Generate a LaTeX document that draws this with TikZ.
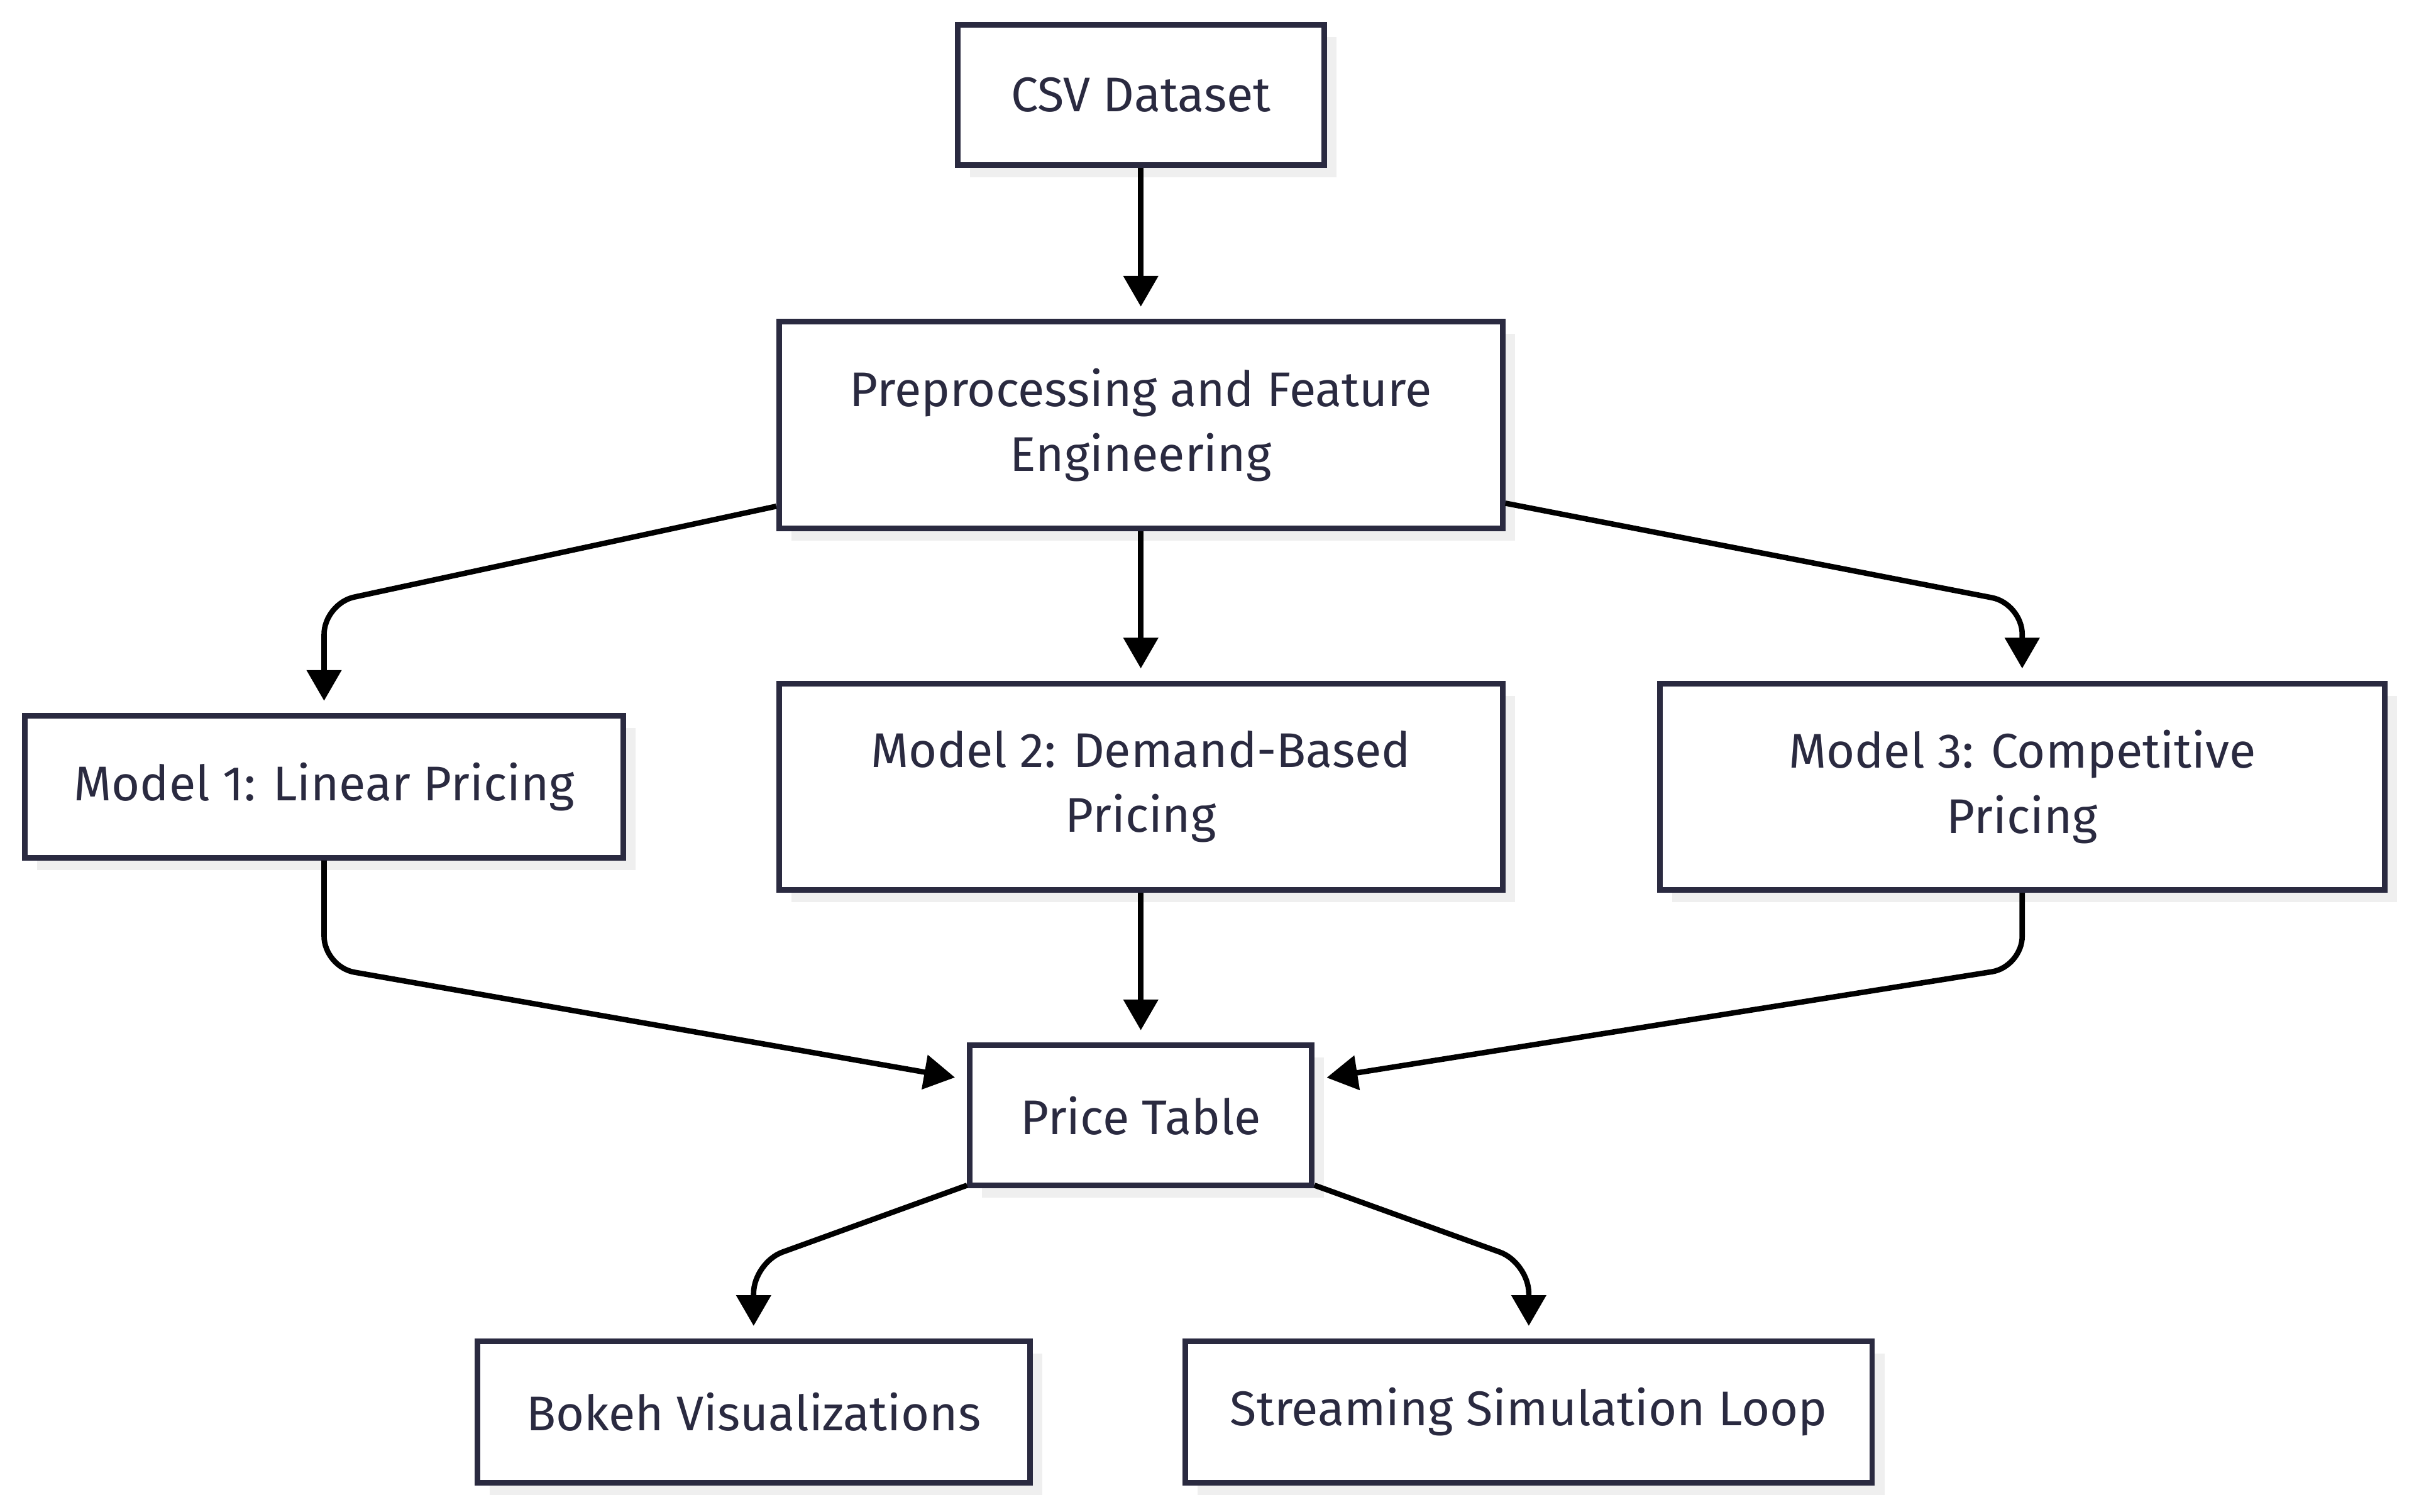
\documentclass[tikz,border=0pt]{standalone}
\usepackage{fontspec}
\setmainfont{Fira Sans}
\usepackage{tikz}
\usetikzlibrary{arrows.meta,shadows}
\definecolor{ink}{HTML}{2A2A40}
\definecolor{shade}{HTML}{EFEFEF}

\begin{document}
\begin{tikzpicture}[
        box/.style={rectangle, draw=ink, line width=2.6pt, fill=white, text=ink, align=center,
            font=\fontsize{22.5}{30}\selectfont, inner sep=0pt,
            general shadow={fill=shade, draw=none, shadow xshift=0.2cm, shadow yshift=-0.2cm}},
        flow/.style={line width=2.5pt, rounded corners=0.5cm, shorten >=0.2cm,
            -{Triangle[length=0.5cm, width=0.55cm]}}
    ]
        \useasboundingbox (0, 0) rectangle (39.2, -24.55);

        \node[box, minimum width=5.95cm, minimum height=2.275cm] (csv) at (18.525, -1.5375) {CSV Dataset};
        \node[box, minimum width=11.75cm, minimum height=3.35cm] (prep) at (18.525, -6.9) {Preprocessing and Feature\\Engineering};
        \node[box, minimum width=9.725cm, minimum height=2.3cm] (lin) at (5.2625, -12.775) {Model 1: Linear Pricing};
        \node[box, minimum width=11.75cm, minimum height=3.35cm] (dem) at (18.525, -12.775) {Model 2: Demand-Based\\Pricing};
        \node[box, minimum width=11.775cm, minimum height=3.35cm] (comp) at (32.8375, -12.775) {Model 3: Competitive\\Pricing};
        \node[box, minimum width=5.55cm, minimum height=2.275cm] (table) at (18.525, -18.1125) {Price Table};
        \node[box, minimum width=8.975cm, minimum height=2.3cm] (bokeh) at (12.2375, -22.925) {Bokeh Visualizations};
        \node[box, minimum width=11.15cm, minimum height=2.3cm] (stream) at (24.825, -22.925) {Streaming Simulation Loop};

        \draw[flow] (csv) -- (prep);
        \draw[flow] ([yshift=0.4cm]prep.south west) -- (lin.north |- 0,-9.8) -- (lin.north);
        \draw[flow] (prep) -- (dem);
        \draw[flow] ([yshift=0.45cm]prep.south east) -- (comp.north |- 0,-9.8) -- (comp.north);
        \draw[flow] (lin.south) -- (lin.south |- 0,-15.7) -- ([yshift=-0.6cm]table.north west);
        \draw[flow] (dem) -- (table);
        \draw[flow] (comp.south) -- (comp.south |- 0,-15.7) -- ([yshift=-0.6cm]table.north east);
        \draw[flow] ([yshift=0.05cm]table.south west) -- (bokeh.north |- 0,-20.5) -- (bokeh.north);
        \draw[flow] ([yshift=0.05cm]table.south east) -- (stream.north |- 0,-20.5) -- (stream.north);
    \end{tikzpicture}
\end{document}
